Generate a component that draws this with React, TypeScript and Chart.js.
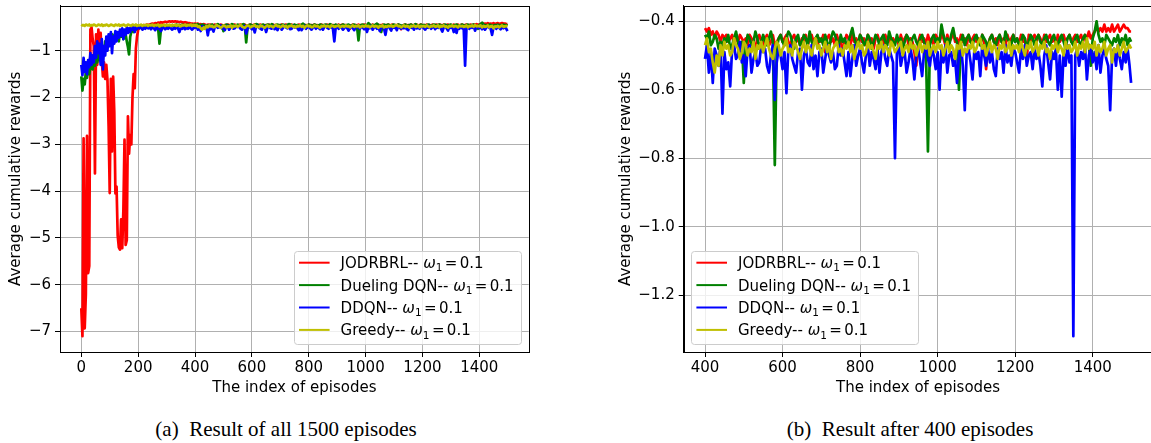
import React, { useEffect, useRef } from 'react';
import { Chart, registerables } from 'chart.js';

Chart.register(...registerables);

// ---------- categories (episode index) ----------
const EARLY_STEP = 4;
const EARLY_END = 200;
const LATE_STEP = 5;
const LAST_EPISODE = 1499;
function buildEpisodes(): number[] {
  const out: number[] = [];
  for (let e = 0; e <= EARLY_END; e += EARLY_STEP) out.push(e);
  for (let e = EARLY_END + LATE_STEP; e < LAST_EPISODE; e += LATE_STEP) out.push(e);
  out.push(LAST_EPISODE);
  return out;
}
const episodes = buildEpisodes();

// ---------- series ----------
const seriesNames = ['JODRBRL', 'Dueling DQN', 'DDQN', 'Greedy'];
const seriesColors = ['#ff0000', '#008000', '#0000ff', '#bfbf00'];
const omegaSymbol = 'ω';
const omegaSubscript = '1';
const omegaValue = '0.1';

const jodrbrl = [
  // 0..200 step 4
  -6.50, -7.10, -2.87, -6.93, -6.20, -2.82, -5.75, -5.60, -0.55, -0.50,
  -0.75, -0.90, -3.62, -0.65, -1.30, -0.55, -0.95, -0.62, -1.20, -1.55,
  -1.25, -1.60, -1.30, -1.62, -2.60, -4.04, -1.60, -3.15, -1.55, -2.30,
  -4.05, -3.90, -4.95, -5.20, -5.25, -4.60, -5.22, -4.40, -2.90, -5.15,
  -5.05, -2.40, -3.20, -2.80, -3.00, -2.00, -1.50, -1.80, -0.95, -0.70, -0.55,
  // 205..395 step 5
  -0.50, -0.47, -0.46, -0.45, -0.46, -0.44, -0.45, -0.44, -0.43, -0.42,
  -0.43, -0.41, -0.42, -0.40, -0.41, -0.39, -0.40, -0.39, -0.38, -0.39,
  -0.38, -0.37, -0.38, -0.37, -0.38, -0.37, -0.38, -0.38, -0.39, -0.38,
  -0.39, -0.40, -0.39, -0.40, -0.41, -0.41, -0.42, -0.42, -0.43,
  // 400..1495 step 5, then 1499
  -0.42, -0.43, -0.42, -0.44, -0.43, -0.45, -0.43, -0.44, -0.46, -0.44,
  -0.45, -0.44, -0.46, -0.45, -0.44, -0.47, -0.45, -0.46, -0.44, -0.45,
  -0.46, -0.45, -0.47, -0.44, -0.45, -0.46, -0.48, -0.45, -0.44, -0.46,
  -0.47, -0.45, -0.44, -0.47, -0.46, -0.44, -0.47, -0.46, -0.45, -0.44,
  -0.46, -0.45, -0.44, -0.46, -0.47, -0.45, -0.44, -0.46, -0.45, -0.47,
  -0.45, -0.46, -0.44, -0.47, -0.45, -0.44, -0.46, -0.45, -0.47, -0.45,
  -0.46, -0.44, -0.49, -0.45, -0.44, -0.46, -0.45, -0.47, -0.44, -0.46,
  -0.45, -0.50, -0.46, -0.44, -0.45, -0.47, -0.44, -0.46, -0.45, -0.47,
  -0.44, -0.46, -0.45, -0.47, -0.44, -0.46, -0.45, -0.48, -0.45, -0.44,
  -0.46, -0.45, -0.47, -0.44, -0.46, -0.44, -0.47, -0.45, -0.46, -0.45,
  -0.47, -0.44, -0.46, -0.45, -0.44, -0.47, -0.45, -0.46, -0.49, -0.53,
  -0.46, -0.44, -0.46, -0.45, -0.47, -0.44, -0.46, -0.45, -0.47, -0.44,
  -0.45, -0.46, -0.44, -0.45, -0.47, -0.44, -0.46, -0.45, -0.43, -0.46,
  -0.45, -0.47, -0.44, -0.46, -0.45, -0.47, -0.44, -0.46, -0.45, -0.44,
  -0.46, -0.45, -0.47, -0.44, -0.46, -0.54, -0.47, -0.45, -0.44, -0.46,
  -0.45, -0.47, -0.44, -0.46, -0.45, -0.47, -0.44, -0.46, -0.45, -0.44,
  -0.46, -0.45, -0.47, -0.44, -0.46, -0.45, -0.51, -0.44, -0.46, -0.45,
  -0.44, -0.46, -0.44, -0.45, -0.47, -0.44, -0.46, -0.45, -0.44, -0.46,
  -0.45, -0.47, -0.44, -0.46, -0.45, -0.44, -0.46, -0.45, -0.44, -0.46,
  -0.45, -0.44, -0.46, -0.45, -0.44, -0.46, -0.44, -0.45, -0.43, -0.45,
  -0.44, -0.43, -0.42, -0.43, -0.42, -0.43, -0.41, -0.43, -0.42, -0.43,
  -0.41, -0.43, -0.42, -0.41, -0.43, -0.42, -0.41, -0.42, -0.42, -0.43,
  -0.43,
];

const duelingDqn = [
  // 0..200 step 4
  -1.55, -1.85, -1.60, -1.72, -1.45, -1.58, -1.30, -1.50, -1.35, -1.25,
  -1.40, -1.20, -1.32, -1.15, -1.25, -1.05, -1.20, -0.95, -1.10, -0.90,
  -1.05, -0.80, -0.95, -0.75, -0.90, -0.70, -0.85, -0.65, -0.80, -0.70,
  -0.60, -0.75, -0.65, -0.80, -0.60, -0.70, -0.55, -0.75, -0.60, -0.65,
  -0.80, -0.92, -1.08, -0.70, -0.60, -0.55, -0.60, -0.50, -0.55, -0.50, -0.48,
  // 205..395 step 5
  -0.47, -0.50, -0.46, -0.48, -0.47, -0.49, -0.46, -0.47, -0.45, -0.48,
  -0.46, -0.47, -0.45, -0.50, -0.85, -0.55, -0.47, -0.46, -0.48, -0.45,
  -0.47, -0.46, -0.48, -0.45, -0.47, -0.46, -0.44, -0.47, -0.45, -0.46,
  -0.44, -0.47, -0.45, -0.46, -0.44, -0.47, -0.45, -0.46, -0.44,
  // 400..1495 step 5, then 1499
  -0.44, -0.45, -0.43, -0.47, -0.46, -0.44, -0.45, -0.48, -0.46, -0.47,
  -0.45, -0.46, -0.44, -0.48, -0.47, -0.45, -0.43, -0.46, -0.49, -0.46,
  -0.58, -0.47, -0.44, -0.45, -0.47, -0.46, -0.43, -0.45, -0.48, -0.46,
  -0.44, -0.46, -0.47, -0.45, -0.43, -0.46, -0.82, -0.48, -0.45, -0.44,
  -0.46, -0.47, -0.45, -0.43, -0.44, -0.46, -0.48, -0.45, -0.44, -0.47,
  -0.46, -0.44, -0.45, -0.47, -0.43, -0.46, -0.47, -0.45, -0.44, -0.46,
  -0.45, -0.47, -0.44, -0.46, -0.48, -0.45, -0.43, -0.44, -0.46, -0.47,
  -0.44, -0.46, -0.45, -0.47, -0.46, -0.44, -0.42, -0.45, -0.47, -0.46,
  -0.44, -0.45, -0.47, -0.46, -0.44, -0.45, -0.48, -0.46, -0.44, -0.45,
  -0.47, -0.45, -0.44, -0.46, -0.47, -0.43, -0.45, -0.46, -0.47, -0.44,
  -0.46, -0.45, -0.48, -0.46, -0.44, -0.45, -0.47, -0.45, -0.44, -0.46,
  -0.47, -0.45, -0.44, -0.46, -0.49, -0.78, -0.47, -0.45, -0.44, -0.46,
  -0.45, -0.46, -0.41, -0.44, -0.46, -0.45, -0.47, -0.44, -0.42, -0.45,
  -0.46, -0.60, -0.46, -0.44, -0.47, -0.45, -0.44, -0.46, -0.47, -0.45,
  -0.44, -0.46, -0.47, -0.44, -0.45, -0.46, -0.48, -0.45, -0.44, -0.46,
  -0.47, -0.45, -0.44, -0.46, -0.47, -0.43, -0.45, -0.46, -0.47, -0.44,
  -0.46, -0.45, -0.47, -0.46, -0.44, -0.45, -0.48, -0.46, -0.44, -0.45,
  -0.47, -0.45, -0.44, -0.46, -0.47, -0.45, -0.44, -0.46, -0.47, -0.45,
  -0.44, -0.46, -0.47, -0.45, -0.44, -0.46, -0.48, -0.45, -0.44, -0.46,
  -0.47, -0.45, -0.44, -0.46, -0.47, -0.45, -0.44, -0.46, -0.47, -0.53,
  -0.45, -0.43, -0.40, -0.44, -0.46, -0.45, -0.47, -0.44, -0.45, -0.46,
  -0.47, -0.45, -0.46, -0.44, -0.47, -0.45, -0.46, -0.44, -0.47, -0.45,
  -0.46,
];

const ddqn = [
  // 0..200 step 4
  -1.30, -1.52, -1.15, -1.45, -1.25, -1.50, -1.20, -1.35, -1.05, -1.30,
  -1.10, -1.25, -0.90, -1.15, -0.80, -1.05, -0.85, -1.30, -0.75, -1.40,
  -0.90, -1.10, -0.70, -1.00, -0.65, -0.90, -0.60, -1.05, -0.70, -0.85,
  -0.58, -0.80, -0.60, -0.72, -0.55, -0.68, -0.52, -0.75, -0.55, -0.66,
  -0.50, -0.62, -0.52, -0.60, -0.48, -0.55, -0.50, -0.60, -0.48, -0.53, -0.50,
  // 205..395 step 5
  -0.52, -0.49, -0.55, -0.50, -0.53, -0.49, -0.52, -0.50, -0.54, -0.49,
  -0.52, -0.56, -0.50, -0.53, -0.51, -0.58, -0.52, -0.50, -0.54, -0.51,
  -0.53, -0.50, -0.52, -0.55, -0.51, -0.53, -0.50, -0.52, -0.60, -0.51,
  -0.53, -0.50, -0.54, -0.51, -0.53, -0.50, -0.52, -0.55, -0.51,
  // 400..1495 step 5, then 1499
  -0.51, -0.47, -0.55, -0.49, -0.58, -0.48, -0.50, -0.53, -0.47, -0.67,
  -0.49, -0.54, -0.52, -0.59, -0.48, -0.47, -0.51, -0.50, -0.46, -0.52,
  -0.50, -0.56, -0.48, -0.47, -0.55, -0.51, -0.49, -0.53, -0.52, -0.47,
  -0.49, -0.48, -0.53, -0.55, -0.50, -0.47, -0.63, -0.52, -0.48, -0.50,
  -0.54, -0.49, -0.61, -0.48, -0.47, -0.51, -0.53, -0.55, -0.49, -0.48,
  -0.60, -0.50, -0.48, -0.52, -0.53, -0.47, -0.54, -0.50, -0.56, -0.49,
  -0.48, -0.55, -0.51, -0.47, -0.50, -0.52, -0.49, -0.54, -0.53, -0.47,
  -0.50, -0.48, -0.52, -0.56, -0.49, -0.56, -0.51, -0.47, -0.53, -0.50,
  -0.48, -0.52, -0.55, -0.50, -0.47, -0.53, -0.49, -0.51, -0.54, -0.48,
  -0.55, -0.49, -0.47, -0.51, -0.53, -0.48, -0.50, -0.52, -0.80, -0.49,
  -0.47, -0.53, -0.50, -0.49, -0.55, -0.52, -0.48, -0.51, -0.57, -0.50,
  -0.48, -0.52, -0.56, -0.49, -0.47, -0.51, -0.53, -0.48, -0.50, -0.54,
  -0.49, -0.60, -0.48, -0.52, -0.47, -0.55, -0.50, -0.49, -0.53, -0.51,
  -0.58, -0.50, -0.47, -0.53, -0.66, -0.49, -0.48, -0.52, -0.57, -0.48,
  -0.51, -0.49, -0.56, -0.47, -0.50, -0.53, -0.48, -0.52, -0.49, -0.54,
  -0.56, -0.48, -0.51, -0.49, -0.55, -0.47, -0.52, -0.50, -0.53, -0.48,
  -0.49, -0.52, -0.55, -0.48, -0.51, -0.47, -0.53, -0.50, -0.49, -0.54,
  -0.48, -0.51, -0.49, -0.53, -0.59, -0.50, -0.47, -0.52, -0.57, -0.49,
  -0.51, -0.48, -0.60, -0.50, -0.62, -0.49, -0.53, -0.47, -0.52, -0.50,
  -1.32, -0.50, -0.48, -0.53, -0.49, -0.51, -0.47, -0.57, -0.50, -0.48,
  -0.52, -0.49, -0.54, -0.47, -0.55, -0.50, -0.48, -0.51, -0.53, -0.66,
  -0.50, -0.48, -0.53, -0.47, -0.51, -0.54, -0.49, -0.52, -0.48, -0.53,
  -0.58,
];

const greedy = [
  // 0..200 step 4
  -0.44, -0.46, -0.45, -0.47, -0.44, -0.45, -0.46, -0.44, -0.47, -0.45,
  -0.46, -0.44, -0.45, -0.47, -0.46, -0.44, -0.45, -0.46, -0.44, -0.47,
  -0.45, -0.46, -0.44, -0.45, -0.47, -0.46, -0.44, -0.45, -0.46, -0.47,
  -0.44, -0.45, -0.46, -0.44, -0.47, -0.45, -0.46, -0.44, -0.45, -0.47,
  -0.46, -0.44, -0.45, -0.46, -0.47, -0.44, -0.45, -0.46, -0.44, -0.47, -0.45,
  // 205..395 step 5
  -0.46, -0.44, -0.47, -0.45, -0.46, -0.44, -0.47, -0.45, -0.46, -0.44,
  -0.47, -0.45, -0.46, -0.44, -0.48, -0.45, -0.46, -0.44, -0.47, -0.45,
  -0.46, -0.44, -0.47, -0.45, -0.46, -0.44, -0.47, -0.45, -0.46, -0.48,
  -0.45, -0.46, -0.44, -0.47, -0.45, -0.46, -0.44, -0.47, -0.45,
  // 400..1495 step 5, then 1499
  -0.47, -0.45, -0.49, -0.48, -0.52, -0.55, -0.50, -0.53, -0.47, -0.50,
  -0.46, -0.48, -0.47, -0.50, -0.49, -0.45, -0.47, -0.48, -0.51, -0.49,
  -0.46, -0.47, -0.50, -0.48, -0.49, -0.46, -0.51, -0.47, -0.48, -0.46,
  -0.49, -0.47, -0.45, -0.48, -0.50, -0.51, -0.48, -0.46, -0.47, -0.50,
  -0.48, -0.47, -0.45, -0.49, -0.48, -0.50, -0.46, -0.47, -0.49, -0.51,
  -0.48, -0.46, -0.49, -0.47, -0.48, -0.50, -0.47, -0.45, -0.48, -0.47,
  -0.50, -0.48, -0.46, -0.49, -0.47, -0.51, -0.48, -0.47, -0.46, -0.49,
  -0.48, -0.50, -0.47, -0.48, -0.46, -0.49, -0.47, -0.51, -0.48, -0.46,
  -0.48, -0.47, -0.50, -0.49, -0.46, -0.48, -0.47, -0.49, -0.51, -0.47,
  -0.48, -0.46, -0.49, -0.47, -0.48, -0.50, -0.46, -0.47, -0.49, -0.48,
  -0.47, -0.46, -0.50, -0.48, -0.47, -0.49, -0.46, -0.48, -0.47, -0.50,
  -0.48, -0.46, -0.49, -0.47, -0.48, -0.46, -0.50, -0.48, -0.47, -0.49,
  -0.46, -0.48, -0.47, -0.50, -0.48, -0.46, -0.49, -0.47, -0.48, -0.51,
  -0.47, -0.48, -0.46, -0.50, -0.48, -0.49, -0.47, -0.48, -0.46, -0.49,
  -0.48, -0.46, -0.45, -0.48, -0.47, -0.50, -0.48, -0.46, -0.49, -0.47,
  -0.48, -0.51, -0.47, -0.48, -0.46, -0.49, -0.48, -0.46, -0.50, -0.47,
  -0.48, -0.47, -0.49, -0.46, -0.48, -0.50, -0.47, -0.48, -0.46, -0.49,
  -0.48, -0.46, -0.50, -0.47, -0.48, -0.46, -0.49, -0.48, -0.51, -0.47,
  -0.48, -0.46, -0.49, -0.47, -0.48, -0.50, -0.46, -0.48, -0.47, -0.49,
  -0.48, -0.46, -0.50, -0.47, -0.48, -0.46, -0.49, -0.45, -0.48, -0.47,
  -0.48, -0.46, -0.50, -0.47, -0.49, -0.48, -0.46, -0.50, -0.48, -0.47,
  -0.52, -0.48, -0.49, -0.47, -0.50, -0.48, -0.46, -0.49, -0.48, -0.47,
  -0.48,
];

const seriesValues = [jodrbrl, duelingDqn, ddqn, greedy];

// ---------- ticks ----------
const leftXTicks = [0, 200, 400, 600, 800, 1000, 1200, 1400];
const leftXTickLabels = ['0', '200', '400', '600', '800', '1000', '1200', '1400'];
const leftYTicks = [-7, -6, -5, -4, -3, -2, -1];
const leftYTickLabels = ['−7', '−6', '−5', '−4', '−3', '−2', '−1'];
const rightXTicks = [400, 600, 800, 1000, 1200, 1400];
const rightXTickLabels = ['400', '600', '800', '1000', '1200', '1400'];
const rightYTicks = [-1.2, -1.0, -0.8, -0.6, -0.4];
const rightYTickLabels = ['−1.2', '−1.0', '−0.8', '−0.6', '−0.4'];

const xTitle = 'The index of episodes';
const yTitle = 'Average cumulative rewards';
const captionA = '(a)\u2002Result of all 1500 episodes';
const captionB = '(b)\u2002Result after 400 episodes';

const FONT = '"DejaVu Sans", sans-serif';
const FS = 15;

Chart.defaults.font.family = FONT;
Chart.defaults.font.size = FS;
Chart.defaults.color = '#000';

function padRange(lo: number, hi: number): [number, number] {
  const m = (hi - lo) * 0.05;
  return [lo - m, hi + m];
}

const spinePlugin = {
  id: 'mplSpines',
  afterDatasetsDraw(chart: any) {
    const { ctx, chartArea: a } = chart;
    ctx.save();
    ctx.strokeStyle = '#000';
    ctx.lineWidth = 1;
    const l = Math.round(a.left) + 0.5;
    const t = Math.round(a.top) + 0.5;
    const r = Math.round(a.right) + 0.5;
    const b = Math.round(a.bottom) + 0.5;
    ctx.strokeRect(l, t, r - l, b - t);
    ctx.restore();
  },
};

const legendPlugin = {
  id: 'mplLegend',
  afterDraw(chart: any, _args: any, opts: any) {
    const { ctx, chartArea: area } = chart;
    const regular = `${FS}px ${FONT}`;
    const italic = `italic ${FS}px ${FONT}`;
    const small = `${FS * 0.7}px ${FONT}`;
    const gap = 0.16 * FS;
    ctx.save();
    const rows = chart.data.datasets.map((ds: any) => {
      ctx.font = regular;
      const wPre = ctx.measureText(ds.legendPrefix).width;
      const wEq = ctx.measureText('=').width;
      const wVal = ctx.measureText(omegaValue).width;
      ctx.font = italic;
      const wOm = ctx.measureText(omegaSymbol).width;
      ctx.font = small;
      const wSub = ctx.measureText(omegaSubscript).width;
      return { ds, wPre, wEq, wVal, wOm, wSub, total: wPre + wOm + wSub + gap + wEq + gap + wVal };
    });
    const maxW = Math.max(...rows.map((r: any) => r.total));
    const boxW = 46.6 + maxW + 7.4;
    const boxH = 93.3;
    const inset = 7.7;
    const x0 = opts.corner === 'lowerLeft' ? area.left + inset : area.right - inset - boxW;
    const y0 = area.bottom - inset - boxH;
    const bx = Math.round(x0) + 0.5;
    const by = Math.round(y0) + 0.5;
    const bw = Math.round(boxW);
    const bh = Math.round(boxH);
    const rad = 3;
    ctx.beginPath();
    ctx.moveTo(bx + rad, by);
    ctx.arcTo(bx + bw, by, bx + bw, by + bh, rad);
    ctx.arcTo(bx + bw, by + bh, bx, by + bh, rad);
    ctx.arcTo(bx, by + bh, bx, by, rad);
    ctx.arcTo(bx, by, bx + bw, by, rad);
    ctx.closePath();
    ctx.fillStyle = 'rgba(255,255,255,0.8)';
    ctx.fill();
    ctx.strokeStyle = '#cccccc';
    ctx.lineWidth = 1;
    ctx.stroke();

    rows.forEach((r: any, i: number) => {
      const cy = y0 + 11.7 + i * 22.4;
      ctx.beginPath();
      ctx.strokeStyle = r.ds.borderColor;
      ctx.lineWidth = 2;
      ctx.moveTo(x0 + 5, cy);
      ctx.lineTo(x0 + 35.6, cy);
      ctx.stroke();
      const base = cy + 0.365 * FS;
      let tx = x0 + 46.6;
      ctx.fillStyle = '#000';
      ctx.textBaseline = 'alphabetic';
      ctx.textAlign = 'left';
      ctx.font = regular;
      ctx.fillText(r.ds.legendPrefix, tx, base);
      tx += r.wPre;
      ctx.font = italic;
      ctx.fillText(omegaSymbol, tx, base);
      tx += r.wOm;
      ctx.font = small;
      ctx.fillText(omegaSubscript, tx, base + 0.22 * FS);
      tx += r.wSub + gap;
      ctx.font = regular;
      ctx.fillText('=', tx, base);
      tx += r.wEq + gap;
      ctx.fillText(omegaValue, tx, base);
    });
    ctx.restore();
  },
};

type PanelSpec = {
  minEpisode: number;
  xTicks: number[];
  xTickLabels: string[];
  yTicks: number[];
  yTickLabels: string[];
  legendCorner: 'lowerLeft' | 'lowerRight';
  padLeft: number;
  padRight: number;
  yAxisWidth: number;
  yTitlePad: number;
};

function buildConfig(spec: PanelSpec): any {
  const idx = episodes.map((_, i) => i).filter((i) => episodes[i] >= spec.minEpisode);
  const xs = idx.map((i) => episodes[i]);
  const ys = seriesValues.flatMap((vals) => idx.map((i) => vals[i]));
  const [xmin, xmax] = padRange(Math.min(...xs), Math.max(...xs));
  const [ymin, ymax] = padRange(Math.min(...ys), Math.max(...ys));

  const datasets = seriesNames.map((name, s) => ({
    label: `${name}-- ${omegaSymbol}₁ = ${omegaValue}`,
    legendPrefix: `${name}-- `,
    data: idx.map((i) => ({ x: episodes[i], y: seriesValues[s][i] })),
    borderColor: seriesColors[s],
    backgroundColor: seriesColors[s],
    borderWidth: 2.7,
    pointRadius: 0,
    pointHoverRadius: 0,
    fill: false,
    tension: 0,
    borderJoinStyle: 'round',
    order: seriesNames.length - 1 - s,
  }));

  const grid = {
    color: '#b0b0b0',
    lineWidth: 1,
    drawTicks: true,
    tickLength: 5,
    tickColor: '#000',
    tickWidth: 1,
  };

  return {
    type: 'line',
    data: { datasets },
    options: {
      animation: false,
      responsive: false,
      events: [],
      layout: { padding: { left: spec.padLeft, right: spec.padRight, top: 5.5, bottom: 0 } },
      plugins: {
        legend: { display: false },
        tooltip: { enabled: false },
        mplLegend: { corner: spec.legendCorner },
      },
      scales: {
        x: {
          type: 'linear',
          min: xmin,
          max: xmax,
          grid,
          border: { display: true, color: '#000', width: 1 },
          ticks: {
            autoSkip: false,
            maxRotation: 0,
            minRotation: 0,
            padding: 2,
            color: '#000',
            font: { size: FS },
            callback: (_v: any, i: number) => spec.xTickLabels[i],
          },
          title: {
            display: true,
            text: xTitle,
            color: '#000',
            font: { size: FS },
            padding: { top: 0, bottom: 3.2 },
          },
          afterBuildTicks: (s: any) => {
            s.ticks = spec.xTicks.map((v) => ({ value: v }));
          },
          afterFit: (s: any) => {
            s.height = 48;
            s.paddingLeft = 0;
            s.paddingRight = 0;
          },
        },
        y: {
          type: 'linear',
          min: ymin,
          max: ymax,
          grid,
          border: { display: true, color: '#000', width: 1 },
          ticks: {
            autoSkip: false,
            padding: 4,
            color: '#000',
            font: { size: FS },
            callback: (_v: any, i: number) => spec.yTickLabels[i],
          },
          title: {
            display: true,
            text: yTitle,
            color: '#000',
            font: { size: FS },
            padding: { top: spec.yTitlePad, bottom: 0 },
          },
          afterBuildTicks: (s: any) => {
            s.ticks = spec.yTicks.map((v) => ({ value: v }));
          },
          afterFit: (s: any) => {
            s.width = spec.yAxisWidth;
            s.paddingTop = 0;
            s.paddingBottom = 0;
          },
        },
      },
    },
    plugins: [spinePlugin, legendPlugin],
  };
}

function Panel(props: { spec: PanelSpec; left: number; width: number; height: number }) {
  const ref = useRef<HTMLCanvasElement | null>(null);
  useEffect(() => {
    if (!ref.current) return;
    const chart = new Chart(ref.current, buildConfig(props.spec));
    return () => chart.destroy();
  }, []);
  return (
    <div style={{ position: 'absolute', left: props.left, top: 0, width: props.width, height: props.height }}>
      <canvas
        ref={ref}
        width={props.width}
        height={props.height}
        style={{ display: 'block', width: props.width, height: props.height }}
      />
    </div>
  );
}

const leftSpec: PanelSpec = {
  minEpisode: 0,
  xTicks: leftXTicks,
  xTickLabels: leftXTickLabels,
  yTicks: leftYTicks,
  yTickLabels: leftYTickLabels,
  legendCorner: 'lowerRight',
  padLeft: 0,
  padRight: 575 - 528.75,
  yAxisWidth: 60,
  yTitlePad: 6.8,
};

const rightSpec: PanelSpec = {
  minEpisode: 400,
  xTicks: rightXTicks,
  xTickLabels: rightXTickLabels,
  yTicks: rightYTicks,
  yTickLabels: rightYTickLabels,
  legendCorner: 'lowerLeft',
  padLeft: 41,
  padRight: 590 - 577.4,
  yAxisWidth: 67.7,
  yTitlePad: 0.8,
};

const captionStyle: React.CSSProperties = {
  position: 'absolute',
  top: 417,
  transform: 'translateX(-50%)',
  whiteSpace: 'nowrap',
  fontFamily: '"Liberation Serif", "Times New Roman", serif',
  fontSize: 21,
  lineHeight: '24px',
  color: '#000',
};

export default function App() {
  return (
    <div
      style={{
        position: 'absolute',
        left: 0,
        top: 0,
        width: 1151,
        height: 443,
        overflow: 'hidden',
        background: '#fff',
      }}
    >
      <Panel spec={leftSpec} left={0} width={575} height={400} />
      <Panel spec={rightSpec} left={575} width={590} height={400} />
      <div style={{ ...captionStyle, left: 286 }}>{captionA}</div>
      <div style={{ ...captionStyle, left: 910 }}>{captionB}</div>
    </div>
  );
}
